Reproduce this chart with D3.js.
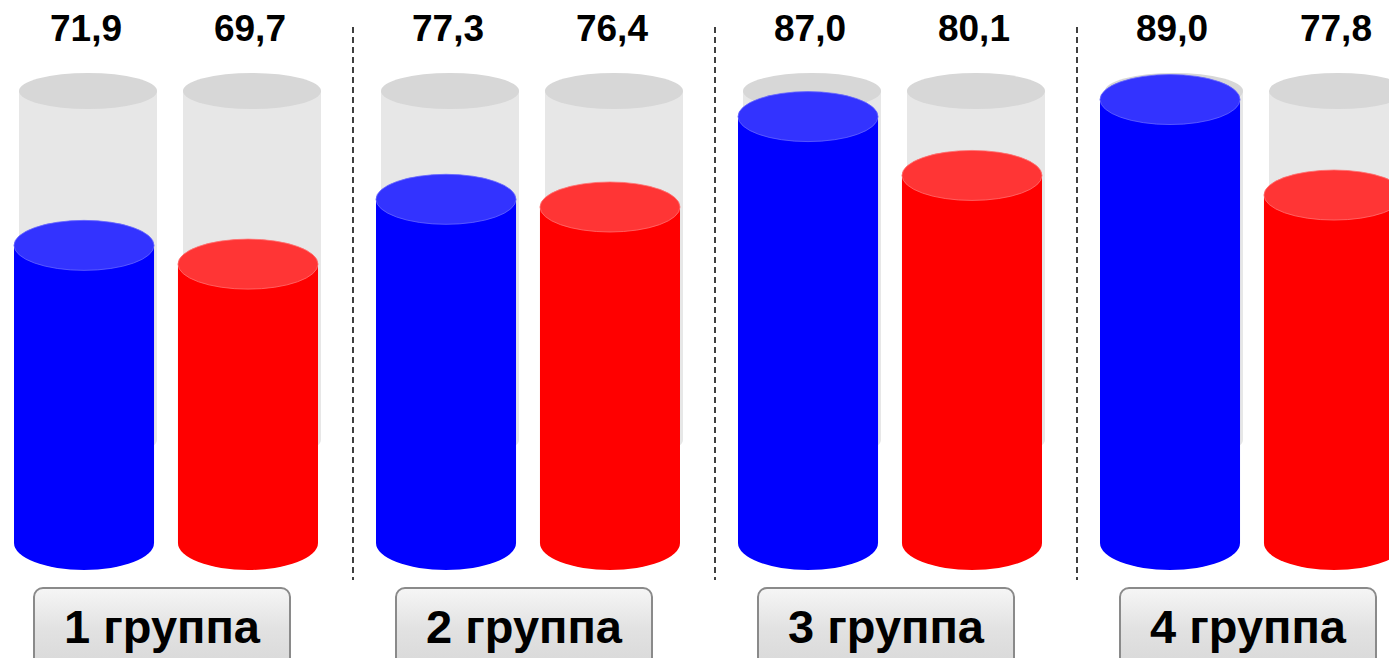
<!DOCTYPE html>
<html>
<head>
<meta charset="utf-8">
<script src="https://cdn.jsdelivr.net/npm/d3@7"></script>
<style>
  body { margin: 0; background: #fff; overflow: hidden; }
  text { font-family: Arial, "Liberation Sans", sans-serif; font-weight: bold; fill: #000; }
</style>
</head>
<body>
<div id="chart"></div>
<script>
// data
var groups = ["1 группа", "2 группа", "3 группа", "4 группа"];
var series = ["blue", "red"];
var blueValues = [71.9, 77.3, 87.0, 89.0];
var redValues = [69.7, 76.4, 80.1, 77.8];
var valueLabels = [["71,9", "69,7"], ["77,3", "76,4"], ["87,0", "80,1"], ["89,0", "77,8"]];

// svg size
var width = 1389,
    height = 658;

var bottom = 543,      // centre of the bottom ellipse of the coloured cylinders
    ry = 25,
    glassTop = 91,
    glassBottom = 440,
    glassRy = 18;

var colors = {
    blue: { side: "#0000ff", top: "#3333ff", edge: "#6666ff" },
    red: { side: "#ff0000", top: "#ff3535", edge: "#ff7070" }
};

var svg = d3.select("#chart")
    .append("svg")
    .attr("width", width)
    .attr("height", height);

// gradient for the buttons
var grad = svg.append("defs")
    .append("linearGradient")
    .attr("id", "btn")
    .attr("x1", 0).attr("y1", 0)
    .attr("x2", 0).attr("y2", 1);
grad.append("stop").attr("offset", "0%").attr("stop-color", "#f6f6f6");
grad.append("stop").attr("offset", "45%").attr("stop-color", "#e2e2e2");
grad.append("stop").attr("offset", "100%").attr("stop-color", "#d6d6d6");

// scales
var xGroup = d3.scalePoint()
    .domain(groups)
    .range([14, 1100]);

var xSeries = d3.scaleBand()
    .domain(series)
    .range([0, 304])
    .paddingInner(0.146);

var hScale = d3.scaleLinear()
    .domain([37, 90])
    .range([0, 452]);

var rx = xSeries.bandwidth() / 2;

// build one record per cylinder
var cyl = [];
groups.forEach(function(g, i) {
    cyl.push({ group: g, s: "blue", value: blueValues[i], label: valueLabels[i][0] });
    cyl.push({ group: g, s: "red", value: redValues[i], label: valueLabels[i][1] });
});

function cx(d) { return xGroup(d.group) + xSeries(d.s) + rx; }

function body(x, top, bot, rx, ry) {
    return "M" + (x - rx) + "," + top +
        "L" + (x - rx) + "," + bot +
        "A" + rx + "," + ry + " 0 0 0 " + (x + rx) + "," + bot +
        "L" + (x + rx) + "," + top + "Z";
}

// grey glass cylinders behind
var glass = svg.append("g").attr("class", "glass");
glass.selectAll("path")
    .data(cyl)
    .enter()
    .append("path")
    .attr("fill", "#e7e7e7")
    .attr("d", function(d) { return body(cx(d) + 4, glassTop, glassBottom, rx - 1, glassRy); });
glass.selectAll("ellipse")
    .data(cyl)
    .enter()
    .append("ellipse")
    .attr("fill", "#d7d7d7")
    .attr("cx", function(d) { return cx(d) + 4; })
    .attr("cy", glassTop)
    .attr("rx", rx - 1)
    .attr("ry", glassRy);

// coloured cylinders
var bars = svg.append("g").attr("class", "bars");
bars.selectAll("path")
    .data(cyl)
    .enter()
    .append("path")
    .attr("fill", function(d) { return colors[d.s].side; })
    .attr("d", function(d) { return body(cx(d), bottom - hScale(d.value), bottom, rx, ry + 2); });
bars.selectAll("ellipse")
    .data(cyl)
    .enter()
    .append("ellipse")
    .attr("fill", function(d) { return colors[d.s].top; })
    .attr("stroke", function(d) { return colors[d.s].edge; })
    .attr("stroke-width", 0.8)
    .attr("cx", cx)
    .attr("cy", function(d) { return bottom - hScale(d.value); })
    .attr("rx", rx)
    .attr("ry", ry);

// value labels
svg.append("g")
    .selectAll("text")
    .data(cyl)
    .enter()
    .append("text")
    .attr("x", function(d) { return cx(d) + 2; })
    .attr("y", 41)
    .attr("text-anchor", "middle")
    .style("font-size", "37px")
    .text(function(d) { return d.label; });

// dashed separators between groups
var seps = groups.slice(1).map(function(g) {
    return (xGroup(g) + xGroup(g) - xGroup.step() + 304) / 2 + 6;
});
svg.append("g")
    .selectAll("line")
    .data(seps)
    .enter()
    .append("line")
    .attr("x1", function(d) { return d; })
    .attr("x2", function(d) { return d; })
    .attr("y1", 27)
    .attr("y2", 580)
    .attr("stroke", "#000")
    .attr("stroke-width", 1.5)
    .attr("stroke-dasharray", "6,4");

// group buttons
var btn = svg.append("g")
    .selectAll("g")
    .data(groups)
    .enter()
    .append("g")
    .attr("transform", function(d) { return "translate(" + (xGroup(d) + 148) + ",0)"; });
btn.append("rect")
    .attr("x", -128)
    .attr("y", 588)
    .attr("width", 256)
    .attr("height", 90)
    .attr("rx", 9)
    .attr("fill", "url(#btn)")
    .attr("stroke", "#8a8a8a")
    .attr("stroke-width", 2);
btn.append("text")
    .attr("x", 0)
    .attr("y", 643)
    .attr("text-anchor", "middle")
    .style("font-size", "47px")
    .text(function(d) { return d; });
</script>
</body>
</html>
